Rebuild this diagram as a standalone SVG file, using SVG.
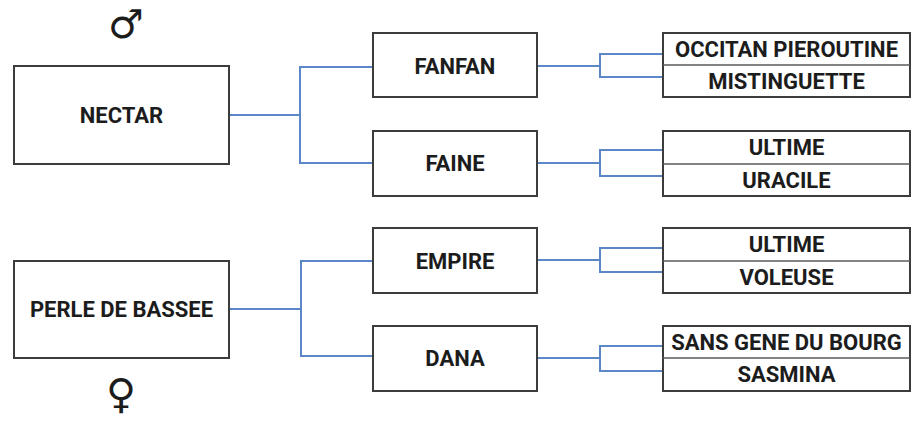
<svg xmlns="http://www.w3.org/2000/svg" width="915" height="421" viewBox="0 0 915 421">
<style>
.box{fill:#ffffff;stroke:#3c3c3c;stroke-width:2}
.div{stroke:#5a5a5a;stroke-width:1.5}
.lbl{font-family:Roboto,"Liberation Sans",sans-serif;font-weight:bold;font-size:22px;fill:#1c1c1c;text-anchor:middle;dominant-baseline:central}
.sm{font-size:22px}
.con{fill:none;stroke:#5b87c6;stroke-width:2}
.sym{font-family:"DejaVu Sans",sans-serif;fill:#1c1c1c;text-anchor:middle}
</style>
<rect width="915" height="421" fill="#ffffff"/>
<g id="connectors">
<path class="con" d="M229 115H300M373 67H300V163H373"/>
<path class="con" d="M229 309H301M373 261H301V356H373"/>
<path class="con" d="M537 66H600M663 54H600V77H663"/>
<path class="con" d="M537 163H600M663 150H600V176H663"/>
<path class="con" d="M537 260H600M663 248H600V272H663"/>
<path class="con" d="M537 358H600M663 346H600V371H663"/>
</g>
<g id="male-symbol"><text class="sym" x="126" y="38" font-size="40">♂</text></g>
<g id="female-symbol"><text class="sym" x="121" y="408" font-size="41">♀</text></g>
<g id="nectar"><rect class="box" x="14" y="66" width="215" height="98"/><text class="lbl" x="121.5" y="115">NECTAR</text></g>
<g id="perle"><rect class="box" x="14" y="261" width="215" height="97"/><text class="lbl" x="121.5" y="309">PERLE DE BASSEE</text></g>
<g id="fanfan"><rect class="box" x="373" y="33" width="164" height="64"/><text class="lbl" x="455" y="66">FANFAN</text></g>
<g id="faine"><rect class="box" x="373" y="131" width="164" height="65"/><text class="lbl" x="455" y="163">FAINE</text></g>
<g id="empire"><rect class="box" x="373" y="228" width="164" height="65"/><text class="lbl" x="455" y="261">EMPIRE</text></g>
<g id="dana"><rect class="box" x="373" y="326" width="164" height="65"/><text class="lbl" x="455" y="358">DANA</text></g>
<g id="fanfan-parents"><rect class="box" x="663" y="33" width="247" height="64"/><line class="div" x1="663" y1="65" x2="910" y2="65"/><text class="lbl sm" x="786.5" y="49.5">OCCITAN PIEROUTINE</text><text class="lbl sm" x="786.5" y="81.5">MISTINGUETTE</text></g>
<g id="faine-parents"><rect class="box" x="663" y="131" width="247" height="65"/><line class="div" x1="663" y1="164" x2="910" y2="164"/><text class="lbl sm" x="786.5" y="147.5">ULTIME</text><text class="lbl sm" x="786.5" y="180">URACILE</text></g>
<g id="empire-parents"><rect class="box" x="663" y="228" width="247" height="65"/><line class="div" x1="663" y1="261" x2="910" y2="261"/><text class="lbl sm" x="786.5" y="244.5">ULTIME</text><text class="lbl sm" x="786.5" y="277">VOLEUSE</text></g>
<g id="dana-parents"><rect class="box" x="663" y="326" width="247" height="65"/><line class="div" x1="663" y1="358" x2="910" y2="358"/><text class="lbl sm" x="786.5" y="342">SANS GENE DU BOURG</text><text class="lbl sm" x="786.5" y="374.5">SASMINA</text></g>
</svg>
